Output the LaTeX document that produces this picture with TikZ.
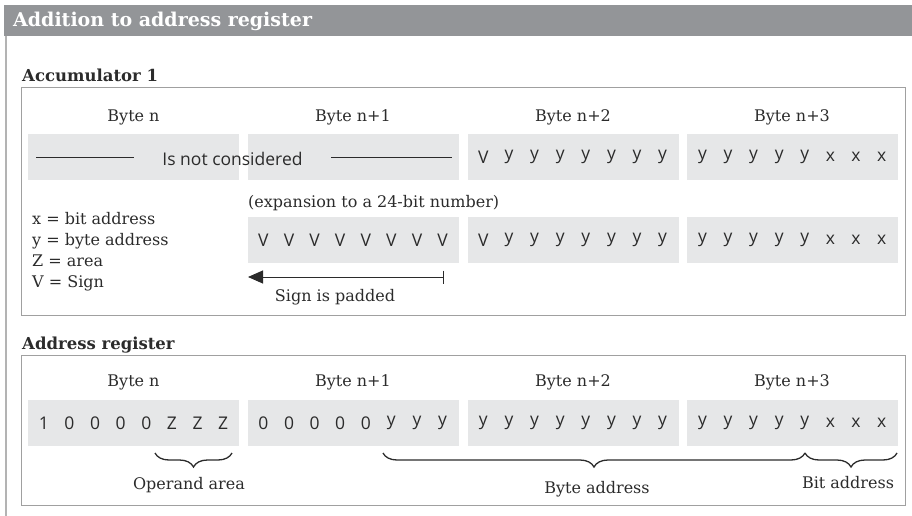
\documentclass[tikz,border=0pt]{standalone}
\usepackage{fontspec}
\setmainfont{DejaVu Serif}
\newfontfamily\bitfont{Open Sans}
\usetikzlibrary{arrows.meta,decorations.pathreplacing,calc}
\definecolor{hdrgray}{HTML}{939598}
\definecolor{cellgray}{HTML}{E6E7E8}
\definecolor{framegray}{HTML}{A0A0A0}
\definecolor{inkgray}{HTML}{2B2B2B}

\tikzset{
  cell/.style={fill=cellgray, minimum width=211pt, minimum height=46pt, inner sep=0pt},
  bit/.style={font=\bitfont\fontsize{17.5}{20}\selectfont, text=inkgray, inner sep=0pt},
  lbl/.style={font=\fontsize{16}{21}\selectfont, text=inkgray, inner sep=0pt},
  ttl/.style={font=\bfseries\fontsize{16.5}{20}\selectfont, text=inkgray, inner sep=0pt, anchor=base west},
  frm/.style={draw=framegray, line width=1pt},
  brc/.style={decorate, decoration={brace, mirror, amplitude=14pt}, line width=1.3pt, draw=inkgray}
}
% eight bits spread over one byte cell
\newcommand\bitrow[2]{%
  \foreach \ch [count=\k from 0] in {#2}
    \node[bit] at ([xshift={(\k-3.5)*25.6pt}]#1.center) {\ch};}

\begin{document}
\begin{tikzpicture}[x=1pt, y=-1pt]
\useasboundingbox (0,0) rectangle (912,516);
% header
\fill[hdrgray] (4,5) rectangle (912,36);
\node[anchor=west, inner sep=0pt, text=white, font=\bfseries\fontsize{19}{22}\selectfont] (hdr) at (13,21) {Addition to address register};
\draw[framegray!80, line width=1.4pt] (6,36) -- (6,516);

% accumulator 1
\node[ttl] (accttl) at (22,82) {Accumulator 1};
\draw[frm] (21,88) rectangle (905,315);
\foreach \b/\x/\t in {0/133.5/Byte n, 1/353/Byte n+1, 2/573/Byte n+2, 3/792/Byte n+3}
  \node[lbl] (abyte\b) at (\x,117) {\t};
\foreach \b/\x in {0/133.5, 1/353, 2/573, 3/792}
  \node[cell] (a1b\b) at (\x,157) {};
\foreach \b/\x in {1/353, 2/573, 3/792}
  \node[cell] (a2b\b) at (\x,240) {};
\node[bit] (nocons) at (232.5,159) {Is not considered};
\draw[inkgray, line width=1pt] (36,157) -- (134,157);
\draw[inkgray, line width=1pt] (331,157) -- (452,157);
\bitrow{a1b2}{V,y,y,y,y,y,y,y}
\bitrow{a1b3}{y,y,y,y,y,x,x,x}
\node[lbl, anchor=west] (expand) at (248,203) {(expansion to a 24-bit number)};
\bitrow{a2b1}{V,V,V,V,V,V,V,V}
\bitrow{a2b2}{V,y,y,y,y,y,y,y}
\bitrow{a2b3}{y,y,y,y,y,x,x,x}
\node[lbl, anchor=west, align=left] (legend) at (32,252) {x = bit address\\y = byte address\\Z = area\\V = Sign};
\coordinate (padend) at (444,277);
\coordinate (padtip) at (248,277);
\draw[inkgray, line width=1pt, {Bar[width=13pt]}-{Triangle[length=15pt,width=13pt]}] (padend) -- (padtip);
\node[lbl] (padded) at (335,297) {Sign is padded};

% address register
\node[ttl] (regttl) at (22,349) {Address register};
\draw[frm] (21,355) rectangle (905,505);
\foreach \b/\x/\t in {0/133.5/Byte n, 1/353/Byte n+1, 2/573/Byte n+2, 3/792/Byte n+3}
  \node[lbl] (rbyte\b) at (\x,382) {\t};
\foreach \b/\x in {0/133.5, 1/353, 2/573, 3/792}
  \node[cell] (rb\b) at (\x,423) {};
\bitrow{rb0}{1,0,0,0,0,Z,Z,Z}
\bitrow{rb1}{0,0,0,0,0,y,y,y}
\bitrow{rb2}{y,y,y,y,y,y,y,y}
\bitrow{rb3}{y,y,y,y,y,x,x,x}
\draw[brc] (155,453) -- (232,453);
\draw[brc] (383,453) -- (805,453);
\draw[brc] (805,453) -- (897,453);
\node[lbl] (operand) at (189,485) {Operand area};
\node[lbl] (byteaddr) at (597,489) {Byte address};
\node[lbl] (bitaddr) at (848,483) {Bit address};
\end{tikzpicture}
\end{document}
